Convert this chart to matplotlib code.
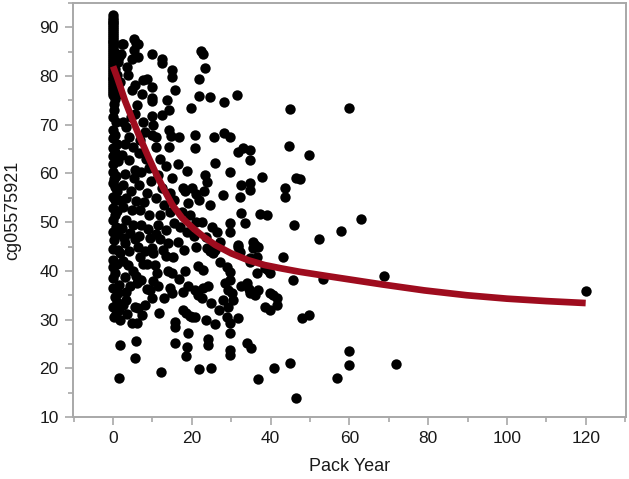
import matplotlib
matplotlib.use("Agg")
import matplotlib.pyplot as plt
from matplotlib.ticker import MultipleLocator

# ---- data (Pack Year, cg05575921) ----
never_smoker_y = [92.6, 92.0, 91.5, 91.1, 90.8, 90.4, 90.0, 89.6, 89.2, 88.9, 88.5, 88.1,
                  87.7, 87.3, 86.9, 86.5, 86.1, 85.7, 85.3, 84.9, 84.5, 84.1, 83.7, 83.3,
                  82.9, 82.5, 82.1, 81.7, 81.3, 80.9, 80.5, 80.1, 79.7, 79.3, 78.9, 78.5,
                  78.1, 77.7, 77.3, 76.9, 76.5, 76.1]

smoker_points = [
    # x ~ 0-2
    (0.5, 84.8), (0.8, 83.6), (1.2, 82.8), (0.6, 81.5), (1.0, 80.3), (0.4, 79.0), (0.9, 77.5),
    (1.3, 76.3), (0.5, 75.2), (0.2, 74.3), (1.5, 83.9), (2.0, 84.6), (2.2, 86.6),
    (0.3, 73.0), (0.0, 71.5), (0.8, 70.6), (0.0, 69.0), (0.5, 68.0), (0.0, 67.3), (1.0, 66.0),
    (0.0, 65.3), (0.6, 64.5), (0.0, 63.5), (1.2, 62.5), (0.0, 60.3), (0.8, 59.5), (0.0, 58.0),
    (0.5, 57.3), (1.0, 56.5), (0.0, 55.2), (0.6, 54.5), (1.5, 54.6), (0.0, 53.0), (1.0, 52.3),
    (0.0, 50.5), (0.7, 49.0), (0.0, 48.0), (1.2, 47.5), (0.3, 46.3), (0.0, 44.5), (1.3, 44.3),
    (1.8, 43.6), (0.0, 42.2), (0.0, 40.8), (0.5, 39.5), (0.0, 38.5), (0.0, 36.5), (0.5, 34.6),
    (1.0, 33.6), (0.0, 32.5), (1.5, 32.0), (0.3, 30.5), (1.8, 30.0), (0.8, 31.2), (1.2, 35.5),
    (1.8, 24.8), (1.5, 18.1), (0.0, 62.0), (0.2, 58.8), (0.4, 51.5), (0.9, 41.5), (1.6, 37.2),
    # x ~ 2-6
    (2.5, 86.6), (5.3, 87.7), (5.8, 86.8), (5.2, 85.3), (4.7, 83.6), (6.2, 83.9), (3.5, 81.9),
    (3.9, 80.2), (1.8, 78.8), (5.6, 78.1), (4.7, 77.1), (6.0, 74.0), (2.6, 70.5), (3.4, 69.5),
    (4.5, 71.5), (5.5, 72.2), (4.0, 67.5), (3.0, 66.0), (5.0, 65.5), (2.2, 63.7), (4.0, 62.8),
    (5.5, 60.8), (3.0, 59.8), (5.2, 59.0), (2.5, 57.6), (4.5, 56.5), (3.3, 55.0), (5.8, 54.3),
    (2.6, 53.2), (4.8, 52.5), (3.2, 50.5), (5.0, 49.5), (2.3, 48.8), (4.3, 47.8), (5.6, 46.5),
    (3.0, 45.8), (2.4, 42.0), (3.0, 38.7), (3.3, 35.6), (3.3, 34.0), (4.8, 29.3), (6.0, 29.3),
    (5.8, 25.6), (5.6, 22.1), (5.0, 40.0), (5.8, 39.0), (6.0, 37.5), (4.2, 36.8), (2.5, 33.0),
    (3.5, 31.2), (5.5, 32.5), (4.0, 44.0), (3.8, 41.2), (2.8, 46.8),
    # x ~ 6-10
    (6.2, 86.5), (9.8, 84.6), (7.7, 79.1), (8.6, 79.3), (7.3, 76.4), (9.8, 77.8), (9.8, 75.5),
    (9.8, 74.8), (6.9, 66.8), (7.5, 70.5), (8.0, 68.5), (9.8, 71.8), (10.2, 70.0), (9.9, 68.0),
    (6.5, 64.2), (8.4, 63.0), (9.0, 61.2), (7.0, 60.3), (6.5, 57.7), (8.5, 56.0), (9.5, 58.5),
    (7.8, 54.2), (6.8, 52.5), (9.2, 51.4), (7.0, 49.5), (8.8, 48.6), (6.5, 47.2), (9.4, 46.7),
    (6.9, 42.8), (7.7, 41.5), (8.6, 41.5), (10.2, 38.0), (9.9, 44.8), (10.2, 43.6), (6.3, 32.3),
    (7.3, 31.0), (8.1, 33.0), (9.4, 36.0), (10.0, 34.4), (7.0, 38.2), (8.5, 36.3), (6.2, 45.0),
    (8.0, 44.0),
    # x ~ 10-16
    (12.4, 83.6), (12.4, 82.6), (15.0, 81.2), (14.9, 79.8), (13.6, 75.0), (15.7, 77.1),
    (14.1, 73.0), (12.4, 72.0), (11.0, 67.4), (11.0, 65.4), (14.1, 69.0), (14.6, 67.6),
    (14.3, 65.4), (12.0, 63.0), (13.5, 61.5), (11.5, 59.6), (15.0, 59.0), (12.5, 57.0),
    (14.5, 56.0), (11.0, 55.0), (13.0, 53.5), (15.5, 54.5), (12.0, 51.5), (14.5, 52.0),
    (11.5, 49.5), (13.5, 48.3), (15.5, 49.8), (11.0, 47.5), (12.7, 44.3), (13.5, 43.0),
    (15.2, 42.8), (14.0, 45.8), (14.0, 40.0), (15.0, 39.5), (10.7, 41.2), (11.2, 39.5),
    (14.5, 36.5), (15.0, 35.4), (11.7, 31.3), (12.2, 19.2), (15.7, 29.5), (15.7, 28.5),
    (15.7, 25.2), (12.0, 46.5), (11.5, 37.0), (13.0, 34.5),
    # x ~ 16-22
    (16.8, 67.4), (20.8, 67.8), (20.8, 65.2), (19.8, 73.4), (21.9, 79.5), (21.9, 76.0),
    (18.8, 60.6), (17.7, 57.0), (20.0, 57.0), (21.0, 55.8), (21.8, 54.5), (18.3, 56.5),
    (19.0, 54.0), (16.5, 62.0), (17.5, 52.0), (19.5, 51.4), (21.0, 50.0), (17.0, 49.0),
    (18.8, 48.0), (20.5, 47.2), (16.5, 46.0), (18.0, 44.3), (21.0, 45.0), (16.8, 38.3),
    (17.7, 35.6), (17.8, 32.0), (18.5, 31.3), (19.5, 30.8), (20.0, 30.5), (19.0, 27.2),
    (18.7, 24.4), (18.5, 22.5), (20.8, 30.5), (21.8, 19.8), (20.8, 36.0), (21.5, 35.0),
    (22.5, 34.4), (19.0, 36.8), (21.5, 41.0), (18.3, 40.0),
    # x ~ 22-30
    (22.3, 85.1), (22.9, 84.6), (23.4, 81.6), (24.6, 75.8), (28.2, 74.7), (25.7, 67.4),
    (28.2, 68.3), (29.7, 67.5), (25.9, 62.1), (29.7, 60.3), (23.4, 59.6), (23.9, 58.2),
    (27.9, 55.5), (23.0, 56.5), (24.5, 53.5), (22.5, 50.0), (25.0, 49.0), (26.5, 48.0),
    (23.5, 47.0), (25.9, 44.3), (27.2, 45.9), (29.7, 49.8), (29.7, 48.0), (22.9, 40.1),
    (23.8, 44.7), (24.6, 44.0), (25.4, 43.6), (24.2, 37.0), (24.9, 33.4), (24.0, 26.0),
    (24.2, 24.8), (24.9, 20.0), (25.9, 29.1), (26.9, 32.0), (27.2, 41.8), (28.9, 40.8),
    (29.7, 39.7), (29.7, 38.1), (29.2, 36.0), (30.2, 35.4), (29.2, 32.6), (28.9, 30.5),
    (29.7, 29.3), (29.7, 27.2), (29.7, 23.8), (29.7, 22.7), (28.5, 37.5), (28.0, 34.0),
    (22.8, 36.5), (23.5, 30.0),
    # x ~ 30-40
    (31.4, 76.2), (31.7, 64.4), (33.0, 65.2), (34.8, 64.8), (34.8, 62.7), (32.4, 57.6),
    (34.8, 58.0), (34.8, 56.6), (32.2, 55.2), (32.4, 51.8), (37.3, 51.7), (39.0, 51.4),
    (37.8, 59.2), (33.5, 49.8), (31.7, 44.9), (32.2, 43.8), (35.5, 45.9), (36.0, 45.3),
    (36.8, 44.9), (34.8, 42.6), (34.8, 41.8), (38.6, 40.6), (39.9, 39.5), (36.5, 39.5),
    (31.7, 30.3), (34.0, 37.5), (34.4, 36.3), (34.8, 35.4), (36.0, 35.0), (34.0, 25.2),
    (35.0, 24.2), (36.8, 36.0), (36.8, 17.8), (38.6, 32.6), (39.4, 40.1), (39.9, 35.4),
    (39.9, 32.0), (31.7, 45.3), (35.5, 44.8), (36.5, 42.8), (30.5, 34.0), (32.5, 37.0),
    # x ~ 40-50
    (44.8, 73.3), (44.7, 65.6), (43.7, 57.0), (43.7, 55.2), (45.9, 49.4), (46.4, 59.0),
    (49.8, 63.7), (47.5, 58.8), (43.2, 42.8), (45.7, 38.1), (40.5, 35.0), (41.6, 34.4),
    (41.6, 33.0), (40.9, 20.0), (44.9, 21.1), (46.4, 13.9), (48.0, 30.3), (49.8, 31.0),
    # x > 50
    (52.3, 46.5), (53.3, 38.3), (57.8, 48.1), (62.9, 50.7), (60.0, 73.4), (60.0, 23.5),
    (60.0, 20.7), (56.9, 18.0), (68.8, 38.9), (71.8, 20.9), (120.0, 35.9),
]

pack_year = [0.0] * len(never_smoker_y) + [p[0] for p in smoker_points]
cg05575921 = never_smoker_y + [p[1] for p in smoker_points]

# fitted curve
fit_x = [0.0, 1.0, 3.0, 5.0, 7.0, 9.0, 11.0, 13.0, 15.0, 17.5, 20.4, 23.0, 26.0, 30.0,
         34.3, 38.5, 42.8, 47.5, 55.5, 62.0, 68.5, 79.0, 89.8, 100.0, 110.0, 120.0]
fit_y = [82.0, 79.8, 75.0, 70.9, 67.0, 63.3, 59.8, 56.6, 53.6, 50.9, 48.7, 47.0, 45.3, 43.6,
         42.2, 41.2, 40.5, 39.8, 38.8, 38.0, 37.2, 36.0, 35.0, 34.3, 33.8, 33.4]

x_ticks = [0, 20, 40, 60, 80, 100, 120]
y_ticks = [10, 20, 30, 40, 50, 60, 70, 80, 90]

# ---- drawing ----
plt.rcParams['font.family'] = ['Liberation Sans', 'DejaVu Sans']
fig = plt.figure(figsize=(6.29, 4.79), dpi=100)
ax = fig.add_axes([0.1153, 0.1294, 0.8797, 0.8643])

ax.scatter(pack_year, cg05575921, s=56, color='black', linewidths=0, zorder=2)
ax.plot(fit_x, fit_y, color='#9e0c1e', linewidth=4.8, solid_capstyle='butt', zorder=3)

ax.set_xlim(-10.3, 130.2)
ax.set_ylim(10, 95)
ax.set_xticks(x_ticks)
ax.set_yticks(y_ticks)
ax.xaxis.set_minor_locator(MultipleLocator(10))
ax.yaxis.set_minor_locator(MultipleLocator(5))

grey = '#a8a8a8'
for sp in ax.spines.values():
    sp.set_color(grey)
    sp.set_linewidth(1.4)
ax.tick_params(which='major', length=6, width=1.2, color=grey, labelsize=12.5,
               labelcolor='#1a1a1a', pad=4)
ax.tick_params(which='minor', length=3.5, width=1.2, color=grey)
ax.tick_params(top=False, right=False, which='both')

ax.set_xlabel('Pack Year', fontsize=13, color='#1a1a1a', labelpad=9)
ax.set_ylabel('cg05575921', fontsize=13, color='#1a1a1a', labelpad=13)

fig.savefig('out.png', dpi=100)
